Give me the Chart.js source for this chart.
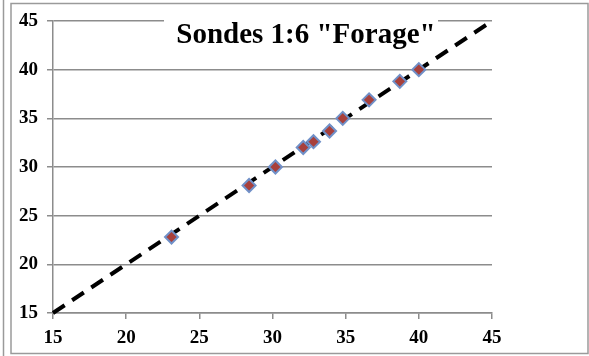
<!DOCTYPE html>
<html>
<head>
<meta charset="utf-8">
<script src="https://cdn.jsdelivr.net/npm/chart.js@4/dist/chart.umd.min.js"></script>
<style>
  html, body { margin: 0; padding: 0; background: #fff; }
  canvas { display: block; }
</style>
</head>
<body>
<canvas id="chart" width="589" height="356"></canvas>
<script>
// probe readings (forage vs reference)
const probeX = [23.1, 28.4, 30.2, 32.1, 32.8, 33.9, 34.8, 36.6, 38.7, 40.0];
const probeY = [22.8, 28.1, 30.0, 32.0, 32.6, 33.7, 35.0, 36.9, 38.8, 40.0];
// 1:1 line
const lineX = [15, 45];
const lineY = [15, 45];
const axisMin = 15, axisMax = 45, axisStep = 5;
const chartTitle = 'Sondes 1:6 "Forage"';

const serif = '"Liberation Serif", "Times New Roman", serif';

const framePlugin = {
  id: 'frame',
  beforeDraw(chart) {
    const c = chart.ctx;
    c.save();
    c.fillStyle = '#fff';
    c.fillRect(0, 0, chart.width, chart.height);
    c.strokeStyle = '#9a9a9a';
    c.lineWidth = 1.5;
    c.beginPath();
    c.moveTo(3.5, 0);
    c.lineTo(3.5, chart.height);
    c.stroke();
    c.strokeRect(11, 3.5, chart.width - 12, chart.height - 6);
    c.restore();
  }
};

const titlePlugin = {
  id: 'boxTitle',
  beforeDatasetsDraw(chart) {
    const c = chart.ctx;
    c.save();
    c.fillStyle = '#fff';
    c.fillRect(164, 12, 274, 40);
    c.fillStyle = '#000';
    c.font = 'bold 29px ' + serif;
    c.textAlign = 'center';
    c.textBaseline = 'alphabetic';
    c.fillText(chartTitle, 306, 43);
    c.restore();
  }
};

new Chart(document.getElementById('chart'), {
  type: 'scatter',
  data: {
    datasets: [{
      data: probeX.map((x, i) => ({x: x, y: probeY[i]})),
      pointStyle: 'rectRot',
      pointRadius: 6.5,
      backgroundColor: '#a8403c',
      borderColor: '#7090c8',
      borderWidth: 2,
      order: 1
    }, {
      type: 'line',
      data: lineX.map((x, i) => ({x: x, y: lineY[i]})),
      borderColor: '#000',
      borderWidth: 4,
      borderDash: [14, 9],
      pointRadius: 0,
      fill: false,
      clip: false,
      order: 2
    }]
  },
  options: {
    responsive: false,
    animation: false,
    layout: { padding: { left: 0, right: 97, top: 21, bottom: 0 } },
    plugins: { legend: { display: false }, tooltip: { enabled: false } },
    scales: {
      x: {
        type: 'linear',
        min: axisMin, max: axisMax,
        afterFit(s) { s.height = 43; },
        ticks: { stepSize: axisStep, color: '#000', padding: 8,
                 font: { family: serif, size: 19, weight: 'bold' } },
        grid: { drawOnChartArea: false, drawTicks: true, tickLength: 6,
                color: '#8c8c8c', lineWidth: 1.5 },
        border: { color: '#8c8c8c', width: 1.5 }
      },
      y: {
        type: 'linear',
        min: axisMin, max: axisMax,
        afterFit(s) { s.width = 53; },
        ticks: { stepSize: axisStep, color: '#000', padding: 9,
                 font: { family: serif, size: 19, weight: 'bold' } },
        grid: { tickLength: 6, color: '#8c8c8c', lineWidth: 1.5 },
        border: { color: '#8c8c8c', width: 1.5 }
      }
    }
  },
  plugins: [framePlugin, titlePlugin]
});
</script>
</body>
</html>
